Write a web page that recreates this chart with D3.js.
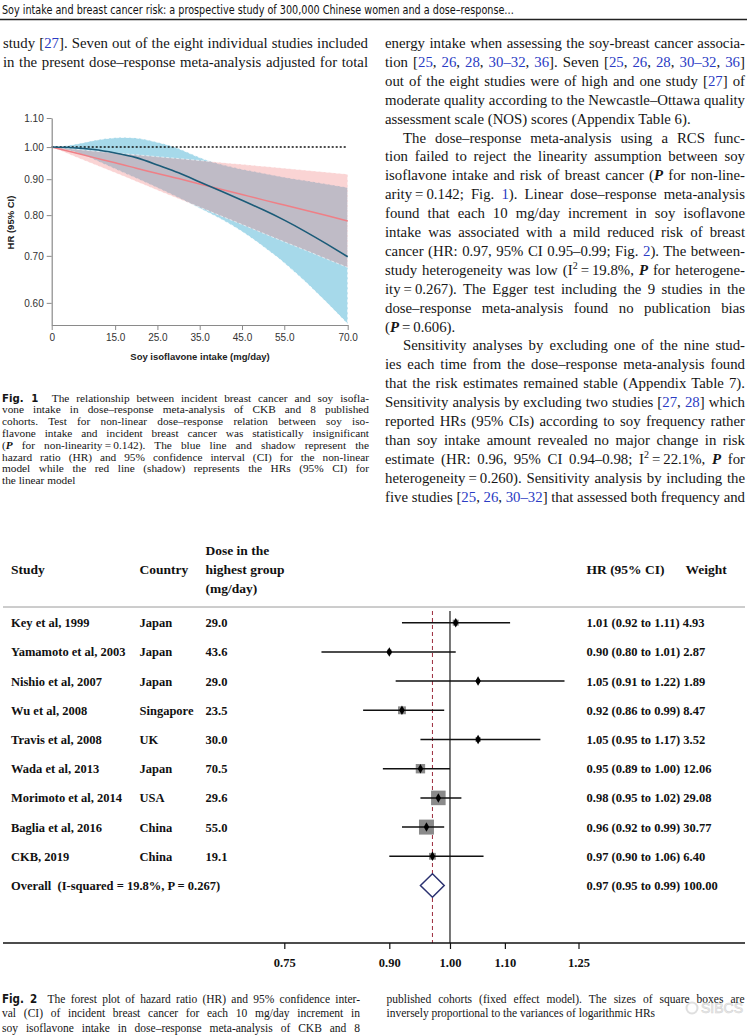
<!DOCTYPE html>
<html><head><meta charset="utf-8">
<script src="https://cdn.jsdelivr.net/npm/d3@7"></script>
<style>body{margin:0;background:#fff}svg{display:block}text{white-space:pre}</style>
</head><body>
<svg id="page" width="747" height="1035"></svg>
<script>
// ---------- Fig. 1 data ----------
const isoDose = [0,5,10,15,20,25,30,35,40,45,50,55,60,65,70];
const linearHR    = [1.000,0.983,0.966,0.950,0.933,0.917,0.902,0.886,0.871,0.856,0.841,0.827,0.813,0.799,0.785];
const linearUpper = [1.000,0.994,0.987,0.981,0.975,0.969,0.963,0.957,0.951,0.945,0.939,0.933,0.927,0.921,0.915];
const linearLower = [1.000,0.972,0.945,0.919,0.893,0.868,0.844,0.821,0.798,0.776,0.754,0.733,0.713,0.693,0.674];
const splineHR    = [1.000,0.998,0.992,0.981,0.966,0.943,0.919,0.892,0.866,0.840,0.814,0.787,0.758,0.728,0.698];
const splineUpper = [1.000,1.008,1.022,1.031,1.030,1.016,0.995,0.966,0.945,0.930,0.918,0.906,0.896,0.886,0.876];
const splineLower = [1.000,0.986,0.960,0.931,0.903,0.875,0.847,0.818,0.790,0.758,0.722,0.684,0.643,0.601,0.560];
const fig1YTicks = [0.60,0.70,0.80,0.90,1.00,1.10];
const fig1XTicks = [0,15,25,35,45,55,70];

// ---------- Fig. 2 data ----------
const studyNames = ["Key et al, 1999","Yamamoto et al, 2003","Nishio et al, 2007","Wu et al, 2008","Travis et al, 2008","Wada et al, 2013","Morimoto et al, 2014","Baglia et al, 2016","CKB, 2019"];
const studyCountries = ["Japan","Japan","Japan","Singapore","UK","Japan","USA","China","China"];
const studyDoses = ["29.0","43.6","29.0","23.5","30.0","70.5","29.6","55.0","19.1"];
const studyHR = [1.01,0.90,1.05,0.92,1.05,0.95,0.98,0.96,0.97];
const studyLo = [0.92,0.80,0.91,0.86,0.95,0.89,0.95,0.92,0.90];
const studyHi = [1.11,1.01,1.22,0.99,1.17,1.00,1.02,0.99,1.06];
const studyWeight = [4.93,2.87,1.89,8.47,3.52,12.06,29.08,30.77,6.40];
const overallLabel = "Overall  (I-squared = 19.8%, P = 0.267)";
const overallHR = 0.97, overallLo = 0.95, overallHi = 0.99, overallWeight = 100.00;
const forestTicks = [0.75,0.90,1.00,1.10,1.25];

// ---------- text ----------
const headerText = "Soy intake and breast cancer risk: a prospective study of 300,000 Chinese women and a dose\u2013response\u2026";
const leftLines = [
 ["study [{27}]. Seven out of the eight individual studies included", true],
 ["in the present dose\u2013response meta-analysis adjusted for total", true]
];
const rightLines = [
 ["energy intake when assessing the soy-breast cancer associa-", true, 0],
 ["tion [{25}, {26}, {28}, {30\u201332}, {36}]. Seven [{25}, {26}, {28}, {30\u201332}, {36}]", true, 0],
 ["out of the eight studies were of high and one study [{27}] of", true, 0],
 ["moderate quality according to the Newcastle\u2013Ottawa quality", true, 0],
 ["assessment scale (NOS) scores (Appendix Table 6).", false, 0],
 ["The dose\u2013response meta-analysis using a RCS func-", true, 1],
 ["tion failed to reject the linearity assumption between soy", true, 0],
 ["isoflavone intake and risk of breast cancer (*P* for non-line-", true, 0],
 ["arity\u2009=\u20090.142; Fig. {1}). Linear dose\u2013response meta-analysis", true, 0],
 ["found that each 10 mg/day increment in soy isoflavone", true, 0],
 ["intake was associated with a mild reduced risk of breast", true, 0],
 ["cancer (HR: 0.97, 95% CI 0.95\u20130.99; Fig. {2}). The between-", true, 0],
 ["study heterogeneity was low (I^2^\u2009=\u200919.8%, *P* for heterogene-", true, 0],
 ["ity\u2009=\u20090.267). The Egger test including the 9 studies in the", true, 0],
 ["dose\u2013response meta-analysis found no publication bias", true, 0],
 ["(*P*\u2009=\u20090.606).", false, 0],
 ["Sensitivity analyses by excluding one of the nine stud-", true, 1],
 ["ies each time from the dose\u2013response meta-analysis found", true, 0],
 ["that the risk estimates remained stable (Appendix Table 7).", true, 0],
 ["Sensitivity analysis by excluding two studies [{27}, {28}] which", true, 0],
 ["reported HRs (95% CIs) according to soy frequency rather", true, 0],
 ["than soy intake amount revealed no major change in risk", true, 0],
 ["estimate (HR: 0.96, 95% CI 0.94\u20130.98; I^2^\u2009=\u200922.1%, *P* for", true, 0],
 ["heterogeneity\u2009=\u20090.260). Sensitivity analysis by including the", true, 0],
 ["five studies [{25}, {26}, {30\u201332}] that assessed both frequency and", true, 0]
];
const fig1Caption = [
 ["#Fig. 1#  The relationship between incident breast cancer and soy isofla-", true],
 ["vone intake in dose\u2013response meta-analysis of CKB and 8 published", true],
 ["cohorts. Test for non-linear dose\u2013response relation between soy iso-", true],
 ["flavone intake and incident breast cancer was statistically insignificant", true],
 ["(*P* for non-linearity\u2009=\u20090.142). The blue line and shadow represent the", true],
 ["hazard ratio (HR) and 95% confidence interval (CI) for the non-linear", true],
 ["model while the red line (shadow) represents the HRs (95% CI) for", true],
 ["the linear model", false]
];
const fig2CaptionLeft = [
 ["#Fig. 2#  The forest plot of hazard ratio (HR) and 95% confidence inter-", true],
 ["val (CI) of incident breast cancer for each 10 mg/day increment in", true],
 ["soy isoflavone intake in dose\u2013response meta-analysis of CKB and 8", true]
];
const fig2CaptionRight = [
 ["published cohorts (fixed effect model). The sizes of square boxes are", true],
 ["inversely proportional to the variances of logarithmic HRs", false]
];

// ---------- helpers ----------
const SERIF = '"Liberation Serif","Times New Roman",serif';
const SANS = '"Liberation Sans",Arial,sans-serif';
const COND = '"Liberation Sans Narrow","DejaVu Sans Condensed","Roboto Condensed",sans-serif';
const LINK = '#2a3bc4';
const svg = d3.select('#page');

function richLine(g, str, x, y, width, size, justify) {
  const t = g.append('text').attr('x', x).attr('y', y)
    .attr('font-family', SERIF).attr('font-size', size).attr('fill', '#151515');
  let buf = '', blue = false, bi = false, sup = false, lab = false, down = false, plain = '';
  const flush = () => {
    if (!buf) return;
    const ts = t.append('tspan').text(buf);
    if (blue) ts.attr('fill', LINK);
    if (bi) ts.attr('font-weight', 'bold').attr('font-style', 'italic');
    if (lab) ts.attr('font-family', COND).attr('font-weight', 'bold');
    if (sup) { ts.attr('font-size', size * 0.68).attr('dy', -size * 0.38); down = true; }
    else if (down) { ts.attr('dy', size * 0.38); down = false; }
    plain += buf; buf = '';
  };
  for (const ch of str) {
    if (ch === '{' || ch === '}') { flush(); blue = ch === '{'; continue; }
    if (ch === '*') { flush(); bi = !bi; continue; }
    if (ch === '^') { flush(); sup = !sup; continue; }
    if (ch === '#') { flush(); lab = !lab; continue; }
    buf += ch;
  }
  flush();
  const nat = t.node().getComputedTextLength();
  if (justify || nat > width) {
    const spaces = (plain.match(/ /g) || []).length;
    let ws = spaces > 0 ? (width - nat) / spaces : 0;
    if (ws < -1.3) {
      t.attr('textLength', width).attr('lengthAdjust', 'spacingAndGlyphs');
    } else if (spaces > 0) {
      t.attr('word-spacing', ws);
    }
  }
  return t;
}

// ---------- page header ----------
svg.append('text').attr('x', 2).attr('y', 14).attr('font-family', COND).attr('font-size', 13)
  .attr('fill', '#111').attr('textLength', 512).attr('lengthAdjust', 'spacingAndGlyphs').text(headerText);
svg.append('line').attr('x1', 0).attr('x2', 747).attr('y1', 19.5).attr('y2', 19.5)
  .attr('stroke', '#222').attr('stroke-width', 1.4);

// ---------- body text ----------
const body = svg.append('g');
leftLines.forEach((l, i) => richLine(body, l[0], 3, 48 + i * 19, 365, 14.8, l[1]));
rightLines.forEach((l, i) => {
  const ind = l[2] ? 18 : 0;
  richLine(body, l[0], 385 + ind, 48 + i * 18.9, 360 - ind, 14.8, l[1]);
});
fig1Caption.forEach((l, i) => richLine(body, l[0], 2, 401.5 + i * 11.8, 367, 11.3, l[1]));
fig2CaptionLeft.forEach((l, i) => richLine(body, l[0], 2, 1002.5 + i * 14.6, 358, 11.5, l[1]));
fig2CaptionRight.forEach((l, i) => richLine(body, l[0], 386.5, 1002.5 + i * 14.6, 358, 11.5, l[1]));

// watermark
const wm = svg.append('g').attr('opacity', 0.8);
wm.append('circle').attr('cx', 692).attr('cy', 1008).attr('r', 5.5).attr('fill', 'none').attr('stroke', '#d8d8d8').attr('stroke-width', 2);
wm.append('text').attr('x', 701).attr('y', 1013).attr('font-family', SANS).attr('font-size', 14)
  .attr('fill', '#efefef').attr('stroke', '#c8c8c8').attr('stroke-width', 0.6).text('SIBCS');

// ---------- Fig. 1 ----------
const f1 = svg.append('g');
const fx = d3.scaleLinear().domain([0, 70]).range([51.7, 347.7]);
const fy = d3.scaleLog().domain([0.558, 1.10]).range([325, 118]);
const bandArea = (lo, hi) => d3.area().x((d, i) => fx(isoDose[i])).y0((d, i) => fy(lo[i])).y1((d, i) => fy(hi[i])).curve(d3.curveNatural)(isoDose);
const lineGen = arr => d3.line().x((d, i) => fx(isoDose[i])).y((d, i) => fy(arr[i])).curve(d3.curveNatural)(isoDose);

f1.append('path').attr('d', bandArea(splineLower, splineUpper)).attr('fill', '#a6d9ea')
  .attr('stroke', '#ffffff').attr('stroke-width', 1).attr('stroke-dasharray', '3,2').attr('stroke-opacity', 0.8);
f1.append('path').attr('d', bandArea(linearLower, linearUpper)).attr('fill', '#f08080').attr('fill-opacity', 0.34)
  .attr('stroke', '#ffffff').attr('stroke-width', 1).attr('stroke-dasharray', '3,2').attr('stroke-opacity', 0.6);
f1.append('line').attr('x1', fx(0)).attr('x2', fx(70)).attr('y1', fy(1)).attr('y2', fy(1))
  .attr('stroke', '#111').attr('stroke-width', 1.6).attr('stroke-dasharray', '2,2');
f1.append('path').attr('d', lineGen(linearHR)).attr('fill', 'none').attr('stroke', '#ef7f86').attr('stroke-width', 1.5);
f1.append('path').attr('d', lineGen(splineHR)).attr('fill', 'none').attr('stroke', '#1b5b78').attr('stroke-width', 1.6);

const yAx = f1.append('g').attr('transform', `translate(${fx(0)},0)`)
  .call(d3.axisLeft(fy).tickValues(fig1YTicks).tickFormat(d3.format('.2f')).tickSize(5).tickSizeOuter(0).tickPadding(3));
const xAx = f1.append('g').attr('transform', `translate(0,${fy.range()[0]})`)
  .call(d3.axisBottom(fx).tickValues(fig1XTicks).tickFormat(d => d === 0 ? '0' : d3.format('.1f')(d)).tickSize(5).tickSizeOuter(0).tickPadding(4));
[yAx, xAx].forEach(a => {
  a.select('.domain').attr('stroke', '#8a8a8a').attr('stroke-width', 1.2);
  a.selectAll('.tick line').attr('stroke', '#8a8a8a');
  a.selectAll('.tick text').attr('font-family', SANS).attr('font-size', 10).attr('fill', '#333');
});
f1.append('text').attr('x', 200).attr('y', 360).attr('text-anchor', 'middle').attr('font-family', SANS)
  .attr('font-weight', 'bold').attr('font-size', 9.5).attr('fill', '#222').text('Soy isoflavone intake (mg/day)');
f1.append('text').attr('transform', 'translate(13.5,222.5) rotate(-90)').attr('text-anchor', 'middle').attr('font-family', SANS)
  .attr('font-weight', 'bold').attr('font-size', 9.5).attr('fill', '#222').text('HR (95% CI)');

// ---------- Fig. 2 ----------
const f2 = svg.append('g').attr('font-family', SERIF).attr('font-weight', 'bold').attr('fill', '#111');
const gx = d3.scaleLog().domain([0.75, 1.25]).range([284.3, 578.5]);
const rowY = d3.scaleLinear().domain([0, 9]).range([622.7, 885.5]);
const colX = {study: 11, country: 139.5, dose: 205.5, hr: 586.5, weight: 685.5};

// header
[['Study', colX.study], ['Country', colX.country], ['HR (95% CI)', colX.hr], ['Weight', colX.weight]].forEach(h =>
  f2.append('text').attr('x', h[1]).attr('y', 573.5).attr('font-size', 13.5).text(h[0]));
['Dose in the', 'highest group', '(mg/day)'].forEach((s, i) =>
  f2.append('text').attr('x', colX.dose).attr('y', 555 + i * 18.8).attr('font-size', 13.5).text(s));
svg.append('line').attr('x1', 3).attr('x2', 745).attr('y1', 607).attr('y2', 607).attr('stroke', '#9a9a9a').attr('stroke-width', 1);

// reference lines
svg.append('line').attr('x1', gx(1)).attr('x2', gx(1)).attr('y1', 611).attr('y2', 943)
  .attr('stroke', '#4a4a4a').attr('stroke-width', 1.5);
svg.append('line').attr('x1', gx(overallHR)).attr('x2', gx(overallHR)).attr('y1', 611).attr('y2', 943)
  .attr('stroke', '#9c2b3c').attr('stroke-width', 1).attr('stroke-dasharray', '4,3');

// rows
const fm = d3.format('.2f');
studyNames.forEach((n, i) => {
  const y = rowY(i);
  f2.append('text').attr('x', colX.study).attr('y', y + 4.5).attr('font-size', 12.5).text(n);
  f2.append('text').attr('x', colX.country).attr('y', y + 4.5).attr('font-size', 12.5).text(studyCountries[i]);
  f2.append('text').attr('x', colX.dose).attr('y', y + 4.5).attr('font-size', 12.5).text(studyDoses[i]);
  f2.append('text').attr('x', colX.hr).attr('y', y + 4.5).attr('font-size', 12.5)
    .text(`${fm(studyHR[i])} (${fm(studyLo[i])} to ${fm(studyHi[i])}) ${fm(studyWeight[i])}`);
  const s = 2.7 * Math.sqrt(studyWeight[i]);
  svg.append('rect').attr('x', gx(studyHR[i]) - s / 2).attr('y', y - s / 2).attr('width', s).attr('height', s).attr('fill', '#8a8a8a');
  svg.append('line').attr('x1', gx(studyLo[i])).attr('x2', gx(studyHi[i])).attr('y1', y).attr('y2', y)
    .attr('stroke', '#111').attr('stroke-width', 1.5);
  svg.append('path').attr('d', d3.symbol().type(d3.symbolDiamond).size(26)()).attr('transform', `translate(${gx(studyHR[i])},${y})`).attr('fill', '#000');
});
// overall
const oy = rowY(9);
f2.append('text').attr('x', colX.study).attr('y', oy + 4.5).attr('font-size', 12.5).text(overallLabel);
f2.append('text').attr('x', colX.hr).attr('y', oy + 4.5).attr('font-size', 12.5)
  .text(`${fm(overallHR)} (${fm(overallLo)} to ${fm(overallHi)}) ${fm(overallWeight)}`);
svg.append('path').attr('d', `M${gx(overallLo)},${oy}L${gx(overallHR)},${oy - 11.7}L${gx(overallHi)},${oy}L${gx(overallHR)},${oy + 11.7}Z`)
  .attr('fill', '#fff').attr('stroke', '#2b3170').attr('stroke-width', 1.5);

// axis
const fa = svg.append('g').attr('transform', 'translate(0,943)')
  .call(d3.axisBottom(gx).tickValues(forestTicks).tickFormat(fm).tickSize(6).tickSizeOuter(0).tickPadding(9));
fa.select('.domain').remove();
fa.insert('line', ':first-child').attr('x1', 3).attr('x2', 745).attr('stroke', '#111').attr('stroke-width', 1.4);
fa.selectAll('.tick line').attr('stroke', '#111').attr('stroke-width', 1.2);
fa.selectAll('.tick text').attr('font-family', SERIF).attr('font-weight', 'bold').attr('font-size', 12.5).attr('fill', '#111');
</script>
</body></html>
